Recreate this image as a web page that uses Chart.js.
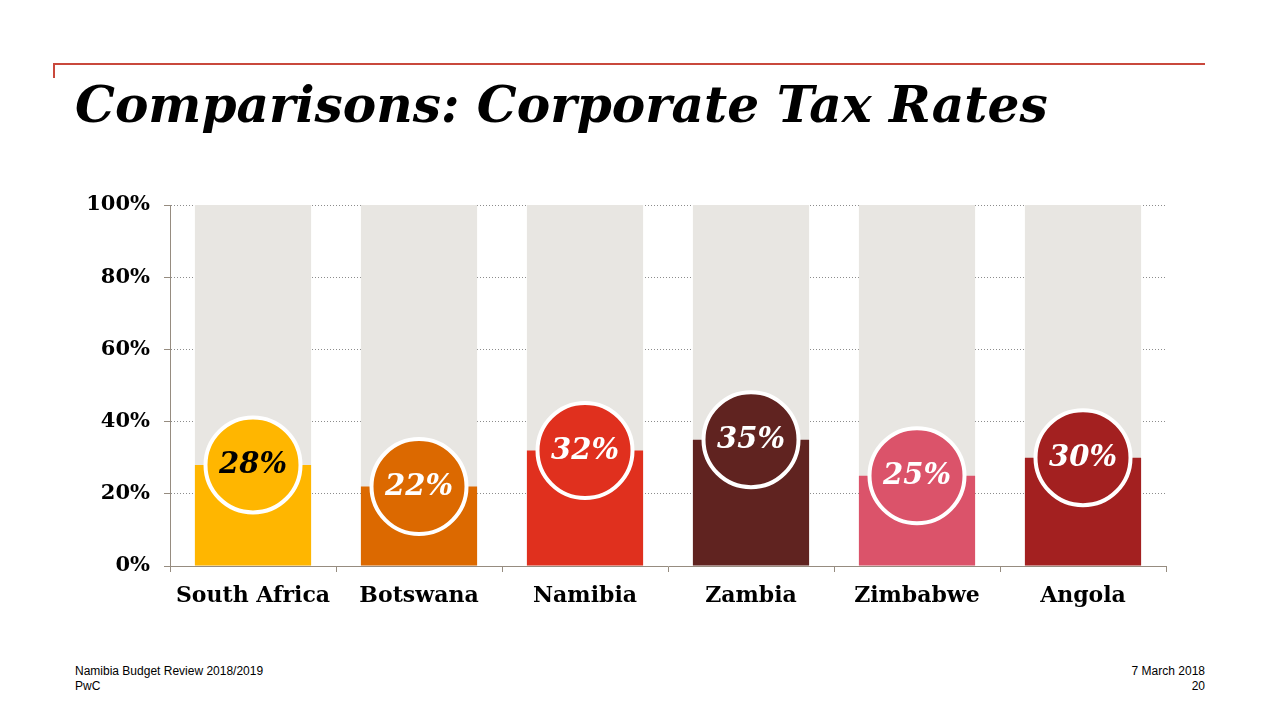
<!DOCTYPE html>
<html>
<head>
<meta charset="utf-8">
<script src="https://cdn.jsdelivr.net/npm/chart.js@4.4.1/dist/chart.umd.min.js"></script>
<style>
  html, body { margin: 0; padding: 0; background: #fff; }
  body { width: 1280px; height: 720px; position: relative; overflow: hidden; }
  #topline { position: absolute; left: 53px; top: 63px; width: 1152px; height: 2px; background: #C9483C; }
  #topline-v { position: absolute; left: 53px; top: 63px; width: 2px; height: 15px; background: #C9483C; }
  #title { position: absolute; left: 75px; top: 75px; font-family: Georgia, "DejaVu Serif", serif; font-weight: bold; font-style: italic; font-size: 50px; color: #000; white-space: nowrap; line-height: 1.2; }
  .foot { position: absolute; font-family: Arial, "Liberation Sans", sans-serif; font-size: 12px; color: #000; line-height: 15px; }
  #footL { left: 75px; top: 664px; }
  #footR { right: 75px; top: 664px; text-align: right; }
  #wrap { position: absolute; left: 0; top: 0; width: 1280px; height: 720px; }
</style>
</head>
<body>
<div id="topline"></div>
<div id="topline-v"></div>
<div id="title">Comparisons: Corporate Tax Rates</div>
<div class="foot" id="footL">Namibia Budget Review 2018/2019<br>PwC</div>
<div class="foot" id="footR">7 March 2018<br>20</div>
<div id="wrap"><canvas id="c" width="1280" height="720"></canvas></div>
<script>
const categories = ["South Africa", "Botswana", "Namibia", "Zambia", "Zimbabwe", "Angola"];
const taxRates = [28, 22, 32, 35, 25, 30];
const fullScale = [100, 100, 100, 100, 100, 100];
const yTicks = [0, 20, 40, 60, 80, 100];
const barColors = ["#FFB600", "#DC6900", "#E0301E", "#602320", "#DB536A", "#A32020"];
const labelColors = ["#000000", "#FFFFFF", "#FFFFFF", "#FFFFFF", "#FFFFFF", "#FFFFFF"];

// fit title width
(function(){
  const t = document.getElementById('title');
  const target = 973;
  const w = t.getBoundingClientRect().width;
  t.style.fontSize = (50 * target / w).toFixed(2) + 'px';
})();

const serif = 'Georgia, "DejaVu Serif", serif';
const axisColor = '#968C80';

const bubbleLabels = {
  id: 'bubbleLabels',
  afterDatasetsDraw(chart) {
    const meta = chart.getDatasetMeta(0);
    const ctx = chart.ctx;
    ctx.save();
    ctx.font = 'italic bold 29px ' + serif;
    ctx.textAlign = 'center';
    ctx.textBaseline = 'middle';
    meta.data.forEach((pt, i) => {
      ctx.fillStyle = labelColors[i];
      ctx.fillText(taxRates[i] + '%', pt.x, pt.y + 1);
    });
    ctx.restore();
  }
};

new Chart(document.getElementById('c'), {
  data: {
    labels: categories,
    datasets: [
      {
        type: 'line',
        data: taxRates,
        showLine: false,
        pointRadius: 47.5,
        pointHoverRadius: 47.5,
        pointBackgroundColor: barColors,
        pointBorderColor: '#FFFFFF',
        pointBorderWidth: 4,
        pointHoverBorderWidth: 4,
        clip: false,
        order: 1
      },
      {
        type: 'bar',
        data: taxRates,
        backgroundColor: barColors,
        grouped: false,
        barPercentage: 0.7,
        categoryPercentage: 1.0,
        order: 2
      },
      {
        type: 'bar',
        data: fullScale,
        backgroundColor: '#E8E6E2',
        grouped: false,
        barPercentage: 0.7,
        categoryPercentage: 1.0,
        order: 3
      }
    ]
  },
  options: {
    responsive: false,
    animation: false,
    events: [],
    layout: { padding: { left: 0, right: 114, top: 205, bottom: 0 } },
    plugins: { legend: { display: false }, tooltip: { enabled: false } },
    scales: {
      x: {
        offset: true,
        grid: { display: true, drawOnChartArea: false, drawTicks: true, tickLength: 6, tickColor: axisColor, tickWidth: 1, offset: true },
        border: { display: true, color: axisColor, width: 1 },
        ticks: { color: '#000', font: { family: serif, weight: 'bold', size: 22 }, padding: 11, maxRotation: 0 },
        afterFit(s) { s.height = 154; }
      },
      y: {
        min: 0, max: 100,
        afterBuildTicks(s) { s.ticks = yTicks.map(v => ({ value: v })); },
        grid: { color: '#8C8C8C', lineWidth: 1, drawTicks: true, tickLength: 6, tickColor: axisColor, tickBorderDash: [], tickWidth: 1 },
        border: { display: true, color: axisColor, width: 1, dash: [1, 2] },
        ticks: { color: '#000', font: { family: serif, weight: 'bold', size: 21 }, padding: 14, callback: v => v + '%' },
        afterFit(s) { s.width = 170; }
      }
    }
  },
  plugins: [bubbleLabels]
});
</script>
</body>
</html>
